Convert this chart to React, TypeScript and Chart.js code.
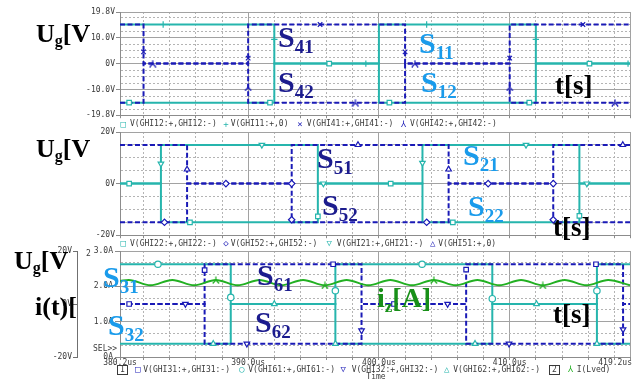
import React, { useEffect, useRef } from 'react';
import { Chart, registerables } from 'chart.js';

Chart.register(...registerables);

// ---------------- time axis ----------------
const T_MIN = 380.2;
const T_MAX = 419.2;
const X_GRID = [380.2, 382, 384, 386, 388, 390, 392, 394, 396, 398, 400, 402, 404, 406, 408, 410, 412, 414, 416, 418, 419.2];
const X_MAJOR = [380.2, 390, 400, 410, 419.2];
const X_LABEL_VALUES = [380.2, 390, 400, 410, 419.2];
const X_LABELS = ['380.2us', '390.0us', '400.0us', '410.0us', '419.2us'];

// ---------------- panel 1 ----------------
const P1_Y_GRID = [-19.8, -17.5, -15, -12.5, -10, -7.5, -5, -2.5, 0, 2.5, 5, 7.5, 10, 12.5, 15, 17.5, 19.8];
const P1_Y_MAJOR = [-19.8, -10, 0, 10, 19.8];
const P1_Y_LABEL_VALUES = [19.8, 10, 0, -10, -19.8];
const P1_Y_LABELS = ['19.8V', '10.0V', '0V', '-10.0V', '-19.8V'];

// level changes: T = time where level V starts
const T_GHI12 = [380.2, 392, 400, 412];
const V_GHI12 = [-15, 0, -15, 0];
const T_GHI11 = [380.2, 392, 400, 412];
const V_GHI11 = [15, 0, 15, 0];
const T_GHI41 = [380.2, 382, 390, 402, 410];
const V_GHI41 = [15, 0, 15, 0, 15];
const T_GHI42 = [380.2, 382, 390, 402, 410];
const V_GHI42 = [-15, 0, -15, 0, -15];

const MT_GHI12 = [380.9, 391.67, 396.2, 400.8, 411.5, 416.1];
const MV_GHI12 = [-15, -15, 0, -15, -15, 0];
const MT_GHI11 = [383.5, 392, 399, 403.65, 412, 419.05];
const MV_GHI11 = [15, 9.3, 0, 15, 9.3, 0];
const MT_GHI41 = [382, 390, 395.5, 402, 410, 415.6];
const MV_GHI41 = [4.5, 2.1, 15, 4.5, 2.1, 15];
const MT_GHI42 = [382.7, 390, 398.2, 402.75, 410, 418.05];
const MV_GHI42 = [0, -9.1, -15, 0, -9.1, -15];

// ---------------- panel 2 ----------------
const P2_Y_GRID = [-20, -15, -10, -5, 0, 5, 10, 15, 20];
const P2_Y_MAJOR = [-20, 0, 20];
const P2_Y_LABEL_VALUES = [20, 0, -20];
const P2_Y_LABELS = ['20V', '0V', '-20V'];

const T_GHI22 = [380.2, 383.33, 395.33, 403.33, 415.33];
const V_GHI22 = [0, -15, 0, -15, 0];
const T_GHI21 = [380.2, 383.33, 395.33, 403.33, 415.33];
const V_GHI21 = [0, 15, 0, 15, 0];
const T_GHI52 = [380.2, 385.33, 393.33, 405.33, 413.33];
const V_GHI52 = [-15, 0, -15, 0, -15];
const T_GHI51 = [380.2, 385.33, 393.33, 405.33, 413.33];
const V_GHI51 = [15, 0, 15, 0, 15];

const MT_GHI22 = [380.9, 385.55, 395.33, 400.9, 405.65, 415.33];
const MV_GHI22 = [0, -15, -12.7, 0, -15, -12.5];
const MT_GHI52 = [383.6, 388.3, 393.33, 393.33, 403.65, 408.35, 413.33, 413.33];
const MV_GHI52 = [-15, 0, 0, -14, -15, 0, 0, -14];
const MT_GHI21 = [383.33, 391.05, 395.75, 403.33, 411.25, 415.9];
const MV_GHI21 = [7.7, 15, 0, 8, 15, 0];
const MT_GHI51 = [385.33, 398.4, 405.33, 418.65];
const MV_GHI51 = [5.5, 15, 5.5, 15];

// ---------------- panel 3 ----------------
const P3_V_GRID = [-20, 0, 20];
const P3_V_LABEL_VALUES = [20, 0, -20];
const P3_V_LABELS = ['20V', '0V', '-20V'];
const P3_A_GRID = [0, 0.333, 0.667, 1, 1.333, 1.667, 2, 2.333, 2.667, 3];
const P3_A_MAJOR = [0, 1, 2, 3];
const P3_A_LABEL_VALUES = [3, 2, 1, 0];
const P3_A_LABELS = ['3.0A', '2.0A', '1.0A', '0A'];

const T_GHI31 = [380.2, 386.67, 398.67, 406.67, 418.67];
const V_GHI31 = [0, 15, 0, 15, 0];
const T_GHI32 = [380.2, 386.67, 398.67, 406.67, 418.67];
const V_GHI32 = [0, -15, 0, -15, 0];
const T_GHI61 = [380.2, 388.67, 396.67, 408.67, 416.67];
const V_GHI61 = [15, 0, 15, 0, 15];
const T_GHI62 = [380.2, 388.67, 396.67, 408.67, 416.67];
const V_GHI62 = [-15, 0, -15, 0, -15];

const MT_GHI31 = [380.9, 386.67, 396.5, 401.15, 406.67, 416.6];
const MV_GHI31 = [0, 12.8, 15, 0, 13, 15];
const MT_GHI61 = [383.1, 388.67, 396.67, 403.3, 408.67, 416.67];
const MV_GHI61 = [15, 2.5, 5, 15, 2, 5];
const MT_GHI32 = [385.2, 389.9, 398.67, 405.25, 409.95, 418.67];
const MV_GHI32 = [0, -15, -10, 0, -15, -9.6];
const MT_GHI62 = [387.33, 392, 396.67, 407.35, 412.05, 416.67];
const MV_GHI62 = [-15, 0, -15, -15, 0, -15];

// inductor current I(Lved), read at its crests and troughs
const T_ILVED = [380.2, 380.87, 382.53, 384.2, 385.87, 387.53, 389.2, 390.87, 392.53, 394.2, 395.87, 397.53, 399.2, 400.87, 402.53, 404.2, 405.87, 407.53, 409.2, 410.87, 412.53, 414.2, 415.87, 417.53, 419.2];
const A_ILVED = [2.15, 2.18, 2.03, 2.18, 2.03, 2.18, 2.03, 2.18, 2.03, 2.18, 2.03, 2.18, 2.03, 2.18, 2.03, 2.18, 2.03, 2.18, 2.03, 2.18, 2.03, 2.18, 2.03, 2.18, 2.03];
const MT_ILVED = [387.53, 395.87, 404.2, 412.53];
const MA_ILVED = [2.18, 2.03, 2.18, 2.03];

// ---------------- styles ----------------
const MONO = '"DejaVu Sans Mono", monospace';
const SERIF = '"Liberation Serif", "Times New Roman", serif';
const TEXT_C = '#3a3a3a';
const MAJOR_C = '#a2a2a2';
const MINOR_C = '#b4b4b4';
const BORDER_C = '#8c8c8c';
const CYAN = '#26b5ad';
const BLUE = '#1a1ab6';
const GREEN = '#22b022';
const NAVY = '#1c1c8e';
const LIGHT = '#1a9beb';
const DGREEN = '#189018';

const near = (a: number, b: number) => Math.abs(a - b) < 1e-6;
const inList = (v: number, list: number[]) => list.some((w) => near(v, w));

const stepData = (T: number[], V: number[]) => {
  const pts = T.map((t, i) => ({ x: t, y: V[i] }));
  pts.push({ x: T_MAX, y: V[V.length - 1] });
  return pts;
};
const pairData = (T: number[], V: number[]) => T.map((t, i) => ({ x: t, y: V[i] }));

function makeLambda(color: string) {
  const c = document.createElement('canvas');
  c.width = 8;
  c.height = 8;
  const g = c.getContext('2d')!;
  g.strokeStyle = color;
  g.lineWidth = 1.2;
  g.beginPath();
  g.moveTo(4, 0.5);
  g.lineTo(4, 4);
  g.moveTo(0.8, 7.5);
  g.lineTo(4, 4);
  g.lineTo(7.2, 7.5);
  g.stroke();
  return c;
}

const stepDs = (T: number[], V: number[], color: string, dashed: boolean, yAxisID = 'y') => ({
  type: 'line',
  data: stepData(T, V),
  borderColor: color,
  borderWidth: 2,
  borderDash: dashed ? [5, 2.5] : [],
  stepped: 'before',
  pointRadius: 0,
  fill: false,
  yAxisID,
  order: dashed ? 1 : 2,
});

const markDs = (T: number[], V: number[], color: string, style: any, rotation = 0, yAxisID = 'y') => ({
  type: 'line',
  data: pairData(T, V),
  showLine: false,
  pointStyle: style,
  pointRadius: 3.2,
  pointRotation: rotation,
  pointBorderColor: color,
  pointBackgroundColor: '#ffffff',
  pointBorderWidth: 1.2,
  yAxisID,
  order: -1,
});

function yScale(
  min: number,
  max: number,
  grid: number[],
  major: number[],
  labelValues: number[],
  labels: string[],
  width: number,
  tickLength: number,
  padding: number,
  extra: any = {}
) {
  return {
    type: 'linear',
    position: 'left',
    min,
    max,
    bounds: 'data',
    afterBuildTicks: (s: any) => {
      s.ticks = grid.map((value) => ({ value }));
    },
    afterFit: (s: any) => {
      s.width = width;
    },
    ticks: {
      autoSkip: false,
      padding,
      font: { family: MONO, size: 8 },
      color: TEXT_C,
      callback: (v: number) => {
        const i = labelValues.findIndex((w) => near(w, v));
        return i >= 0 ? labels[i] : '';
      },
    },
    grid: {
      lineWidth: 1,
      tickLength,
      color: (c: any) => (c.tick && inList(c.tick.value, major) ? MAJOR_C : MINOR_C),
      tickColor: (c: any) => (c.tick && inList(c.tick.value, labelValues) ? BORDER_C : 'rgba(0,0,0,0)'),
    },
    border: {
      display: true,
      color: BORDER_C,
      width: 1,
      dash: (c: any) => (c.tick && !inList(c.tick.value, major) ? [2, 2] : []),
    },
    ...extra,
  };
}

function xScale(height: number) {
  return {
    type: 'linear',
    position: 'bottom',
    min: T_MIN,
    max: T_MAX,
    bounds: 'data',
    afterBuildTicks: (s: any) => {
      s.ticks = X_GRID.map((value) => ({ value }));
    },
    afterFit: (s: any) => {
      s.height = height;
    },
    ticks: { display: false, autoSkip: false },
    grid: {
      lineWidth: 1,
      tickLength: 3,
      color: (c: any) => (c.tick && inList(c.tick.value, X_MAJOR) ? MAJOR_C : MINOR_C),
      tickColor: BORDER_C,
    },
    border: {
      color: BORDER_C,
      width: 1,
      dash: (c: any) => (c.tick && !inList(c.tick.value, X_MAJOR) ? [2, 2] : []),
    },
  };
}

const xLabelPlugin = {
  id: 'timeLabels',
  afterDraw(chart: any) {
    const { ctx, chartArea, scales } = chart;
    ctx.save();
    ctx.font = `8px ${MONO}`;
    ctx.fillStyle = TEXT_C;
    ctx.textBaseline = 'middle';
    X_LABEL_VALUES.forEach((v, i) => {
      const x = scales.x.getPixelForValue(v);
      const last = i === X_LABEL_VALUES.length - 1;
      ctx.textAlign = last ? 'right' : 'center';
      ctx.fillText(X_LABELS[i], last ? x + 2 : x, chartArea.bottom + 6);
    });
    ctx.restore();
  },
};

const baseOptions = (scales: any, top: number) => ({
  responsive: false,
  maintainAspectRatio: false,
  animation: false,
  devicePixelRatio: 1,
  events: [],
  layout: { padding: { left: 0, right: 9, top, bottom: 0 } },
  plugins: { legend: { display: false }, tooltip: { enabled: false } },
  scales,
});

function config1() {
  const lam = makeLambda(BLUE);
  return {
    type: 'line',
    data: {
      datasets: [
        stepDs(T_GHI41, V_GHI41, BLUE, true),
        stepDs(T_GHI42, V_GHI42, BLUE, true),
        stepDs(T_GHI12, V_GHI12, CYAN, false),
        stepDs(T_GHI11, V_GHI11, CYAN, false),
        markDs(MT_GHI12, MV_GHI12, CYAN, 'rect'),
        markDs(MT_GHI11, MV_GHI11, CYAN, 'cross'),
        markDs(MT_GHI41, MV_GHI41, BLUE, 'crossRot'),
        markDs(MT_GHI42, MV_GHI42, BLUE, lam),
      ],
    },
    options: baseOptions(
      {
        x: xScale(4),
        y: yScale(-19.8, 19.8, P1_Y_GRID, P1_Y_MAJOR, P1_Y_LABEL_VALUES, P1_Y_LABELS, 120, 4, 1),
      },
      12
    ),
  };
}

function config2() {
  return {
    type: 'line',
    data: {
      datasets: [
        stepDs(T_GHI51, V_GHI51, BLUE, true),
        stepDs(T_GHI52, V_GHI52, BLUE, true),
        stepDs(T_GHI22, V_GHI22, CYAN, false),
        stepDs(T_GHI21, V_GHI21, CYAN, false),
        markDs(MT_GHI22, MV_GHI22, CYAN, 'rect'),
        markDs(MT_GHI52, MV_GHI52, BLUE, 'rectRot'),
        markDs(MT_GHI21, MV_GHI21, CYAN, 'triangle', 180),
        markDs(MT_GHI51, MV_GHI51, BLUE, 'triangle'),
      ],
    },
    options: baseOptions(
      {
        x: xScale(4),
        y: yScale(-20, 20, P2_Y_GRID, P2_Y_MAJOR, P2_Y_LABEL_VALUES, P2_Y_LABELS, 120, 4, 1),
      },
      12
    ),
  };
}

function config3() {
  const lam = makeLambda(GREEN);
  return {
    type: 'line',
    data: {
      datasets: [
        {
          type: 'line',
          data: pairData(T_ILVED, A_ILVED),
          borderColor: GREEN,
          borderWidth: 2,
          cubicInterpolationMode: 'monotone',
          pointRadius: 0,
          fill: false,
          yAxisID: 'yA',
          order: 0,
        },
        stepDs(T_GHI31, V_GHI31, BLUE, true, 'yV'),
        stepDs(T_GHI32, V_GHI32, BLUE, true, 'yV'),
        stepDs(T_GHI61, V_GHI61, CYAN, false, 'yV'),
        stepDs(T_GHI62, V_GHI62, CYAN, false, 'yV'),
        markDs(MT_GHI31, MV_GHI31, BLUE, 'rect', 0, 'yV'),
        markDs(MT_GHI61, MV_GHI61, CYAN, 'circle', 0, 'yV'),
        markDs(MT_GHI32, MV_GHI32, BLUE, 'triangle', 180, 'yV'),
        markDs(MT_GHI62, MV_GHI62, CYAN, 'triangle', 0, 'yV'),
        markDs(MT_ILVED, MA_ILVED, GREEN, lam, 0, 'yA'),
      ],
    },
    options: baseOptions(
      {
        x: xScale(24),
        yA: yScale(0, 3, P3_A_GRID, P3_A_MAJOR, P3_A_LABEL_VALUES, P3_A_LABELS, 43, 5, 2, { weight: 0 }),
        yV: yScale(-20, 20, P3_V_GRID, [], P3_V_LABEL_VALUES, P3_V_LABELS, 77, 4, 1, {
          weight: 1,
          grid: {
            drawOnChartArea: false,
            lineWidth: 1,
            tickLength: 4,
            tickColor: '#707070',
          },
          border: { display: true, color: '#707070', width: 1 },
        }),
      },
      11
    ),
    plugins: [xLabelPlugin],
  };
}

function ChartCanvas({ top, height, make }: { top: number; height: number; make: () => any }) {
  const ref = useRef<HTMLCanvasElement | null>(null);
  useEffect(() => {
    const chart = new Chart(ref.current as HTMLCanvasElement, make());
    return () => chart.destroy();
  }, []);
  return (
    <canvas
      ref={ref}
      width={639}
      height={height}
      style={{ position: 'absolute', left: 0, top, width: 639, height, display: 'block' }}
    />
  );
}

// big annotation text, positioned by the top of capitals
function Big({ left, capTop, size, color, children }: any) {
  return (
    <div
      style={{
        position: 'absolute',
        left,
        top: capTop - 0.1755 * size,
        font: `bold ${size}px ${SERIF}`,
        lineHeight: 1,
        color,
        whiteSpace: 'nowrap',
      }}
    >
      {children}
    </div>
  );
}
const Sub = ({ size, shift, children }: any) => (
  <span style={{ fontSize: size, position: 'relative', top: shift }}>{children}</span>
);

function SLabel({ left, capTop, color, idx }: any) {
  return (
    <Big left={left} capTop={capTop} size={30} color={color}>
      S<Sub size={19} shift={6}>{idx}</Sub>
    </Big>
  );
}

function Small({ left, y, color = TEXT_C, size = 8, children, align }: any) {
  return (
    <div
      style={{
        position: 'absolute',
        left,
        top: y - size / 2 - 0.5,
        font: `${size}px ${MONO}`,
        lineHeight: 1,
        color,
        whiteSpace: 'pre',
        transform: align === 'center' ? 'translateX(-50%)' : undefined,
      }}
    >
      {children}
    </div>
  );
}

const LEGEND1 = [
  { sx: 123.3, sym: '□', c: CYAN, tx: 130, t: 'V(GHI12:+,GHI12:-)' },
  { sx: 226, sym: '+', c: CYAN, tx: 230.7, t: 'V(GHI11:+,0)' },
  { sx: 300, sym: '×', c: BLUE, tx: 306.7, t: 'V(GHI41:+,GHI41:-)' },
  { sx: 403.3, sym: '⅄', c: BLUE, tx: 410, t: 'V(GHI42:+,GHI42:-)' },
];
const LEGEND2 = [
  { sx: 123.3, sym: '□', c: CYAN, tx: 130, t: 'V(GHI22:+,GHI22:-)' },
  { sx: 226, sym: '◇', c: BLUE, tx: 230.7, t: 'V(GHI52:+,GHI52:-)' },
  { sx: 329.3, sym: '▽', c: CYAN, tx: 336.7, t: 'V(GHI21:+,GHI21:-)' },
  { sx: 432.7, sym: '△', c: BLUE, tx: 438.3, t: 'V(GHI51:+,0)' },
];
const LEGEND3 = [
  { sx: 137.7, sym: '□', c: BLUE, tx: 143.3, t: 'V(GHI31:+,GHI31:-)' },
  { sx: 241.7, sym: '○', c: CYAN, tx: 248.3, t: 'V(GHI61:+,GHI61:-)' },
  { sx: 343.3, sym: '▽', c: BLUE, tx: 351.7, t: 'V(GHI32:+,GHI32:-)' },
  { sx: 446.7, sym: '△', c: CYAN, tx: 453.3, t: 'V(GHI62:+,GHI62:-)' },
  { sx: 570, sym: '⅄', c: GREEN, tx: 576.7, t: 'I(Lved)' },
];

function LegendRow({ items, y }: any) {
  return (
    <>
      {items.map((it: any, i: number) => (
        <React.Fragment key={i}>
          <Small left={it.sx} y={y} color={it.c} size={9} align="center">
            {it.sym}
          </Small>
          <Small left={it.tx} y={y}>
            {it.t}
          </Small>
        </React.Fragment>
      ))}
    </>
  );
}

function Boxed({ left, y, children }: any) {
  return (
    <div
      style={{
        position: 'absolute',
        left,
        top: y - 5,
        width: 9,
        height: 8,
        border: `1px solid ${TEXT_C}`,
        font: `8px ${MONO}`,
        lineHeight: '8px',
        textAlign: 'center',
        color: TEXT_C,
      }}
    >
      {children}
    </div>
  );
}

export default function App() {
  return (
    <div
      style={{
        position: 'absolute',
        left: 0,
        top: 0,
        width: 639,
        height: 381,
        background: '#ffffff',
        overflow: 'hidden',
      }}
    >
      <ChartCanvas top={0} height={121} make={config1} />
      <ChartCanvas top={120} height={121} make={config2} />
      <ChartCanvas top={240} height={141} make={config3} />

      {/* legends */}
      <LegendRow items={LEGEND1} y={124.5} />
      <LegendRow items={LEGEND2} y={244} />
      <Boxed left={117} y={370}>1</Boxed>
      <LegendRow items={LEGEND3} y={370} />
      <Boxed left={549} y={370}>2</Boxed>
      <Small left={376} y={377.5} align="center">Time</Small>
      <Small left={86} y={254}>2</Small>
      <Small left={93} y={349}>SEL&gt;&gt;</Small>

      {/* axis titles */}
      <Big left={36} capTop={26} size={26} color="#000">
        U<Sub size={16} shift={4}>g</Sub>[V
      </Big>
      <Big left={36} capTop={141} size={26} color="#000">
        U<Sub size={16} shift={4}>g</Sub>[V
      </Big>
      <Big left={14} capTop={253} size={26} color="#000">
        U<Sub size={16} shift={4}>g</Sub>[V
      </Big>
      <Big left={35} capTop={299} size={26} color="#000">
        i(t)[
      </Big>

      {/* switch labels */}
      <SLabel left={278} capTop={27} color={NAVY} idx="41" />
      <SLabel left={278} capTop={72} color={NAVY} idx="42" />
      <SLabel left={419} capTop={33} color={LIGHT} idx="11" />
      <SLabel left={421} capTop={72} color={LIGHT} idx="12" />
      <SLabel left={317} capTop={148} color={NAVY} idx="51" />
      <SLabel left={322} capTop={195} color={NAVY} idx="52" />
      <SLabel left={463} capTop={145} color={LIGHT} idx="21" />
      <SLabel left={468} capTop={196} color={LIGHT} idx="22" />
      <SLabel left={103} capTop={267} color={LIGHT} idx="31" />
      <SLabel left={108} capTop={315} color={LIGHT} idx="32" />
      <SLabel left={257} capTop={265} color={NAVY} idx="61" />
      <SLabel left={255} capTop={312} color={NAVY} idx="62" />

      <Big left={555} capTop={77} size={27} color="#000">t[s]</Big>
      <Big left={553} capTop={219} size={27} color="#000">t[s]</Big>
      <Big left={553} capTop={306} size={27} color="#000">t[s]</Big>
      <Big left={377} capTop={289} size={28} color={DGREEN}>
        i<Sub size={17} shift={5}>z</Sub>[A]
      </Big>
    </div>
  );
}
